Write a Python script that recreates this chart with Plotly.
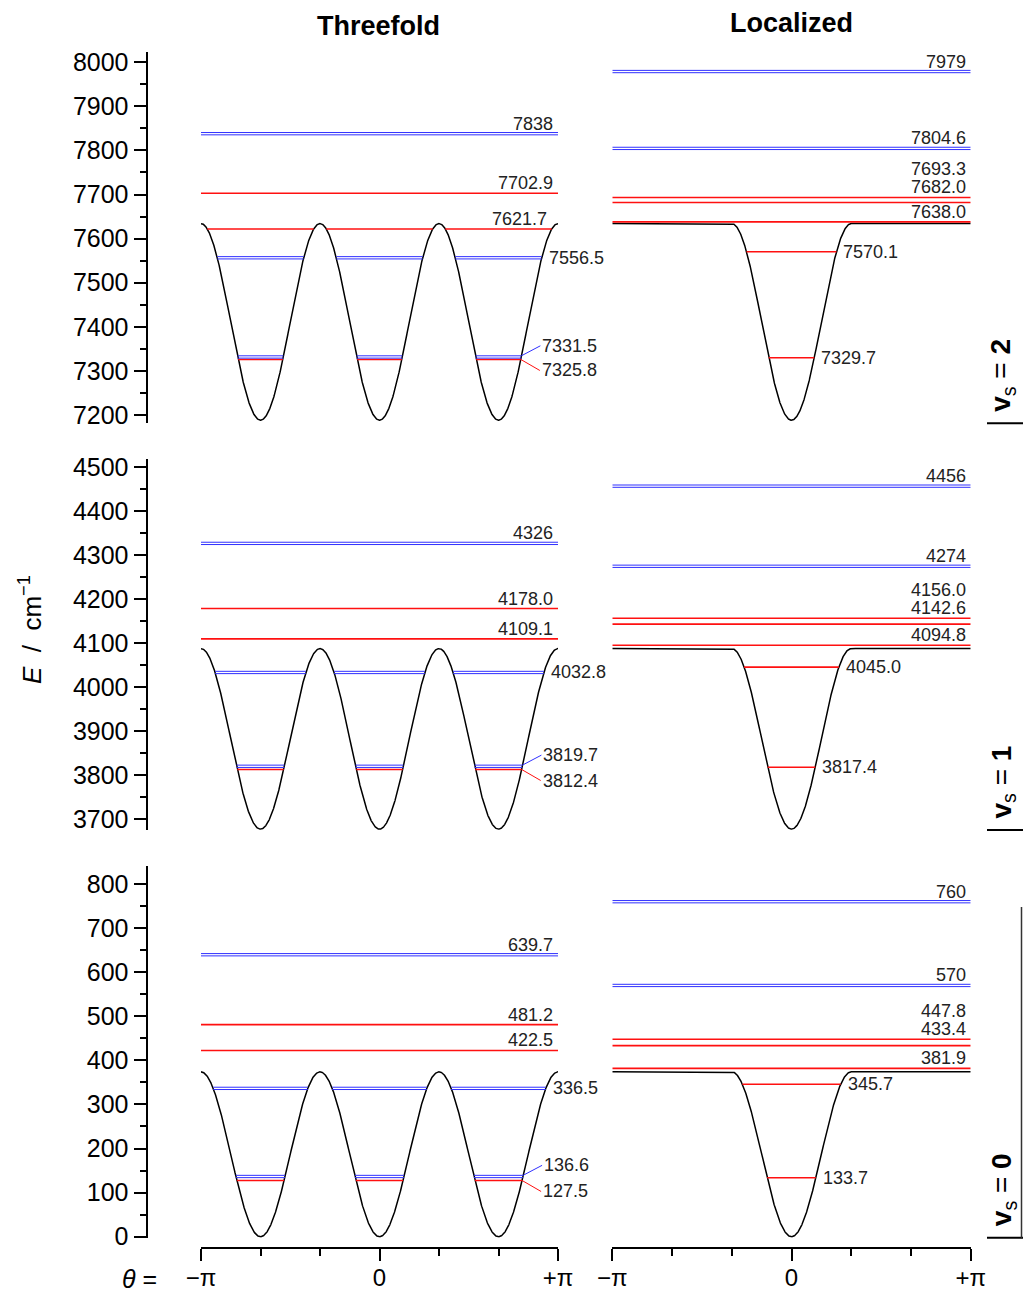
import numpy as np
import plotly.graph_objects as go

W, H = 1023, 1292

# ---------------- data ----------------
ROW_STATES = ["2", "1", "0"]                 # v_s of each row (top to bottom)
POT_MIN = [7188.0, 3677.0, 0.0]              # potential minimum per row
POT_TOP = [7634.0, 4087.0, 374.0]            # barrier top per row
Y_RANGES = [(7181.0, 8024.0), (3675.0, 4517.0), (-2.3, 841.0)]

# threefold column: A (red) and E (blue double) levels
THREEFOLD_A = [["7702.9", "7621.7", "7325.8"],
               ["4178.0", "4109.1", "3812.4"],
               ["481.2", "422.5", "127.5"]]
THREEFOLD_E = [["7838", "7556.5", "7331.5"],
               ["4326", "4032.8", "3819.7"],
               ["639.7", "336.5", "136.6"]]
# localized column
LOCAL_A = [["7693.3", "7682.0", "7638.0", "7570.1", "7329.7"],
           ["4156.0", "4142.6", "4094.8", "4045.0", "3817.4"],
           ["447.8", "433.4", "381.9", "345.7", "133.7"]]
LOCAL_E = [["7979", "7804.6"],
           ["4456", "4274"],
           ["760", "570"]]

COLUMN_TITLES = ["Threefold", "Localized"]
X_TICKVALS = [-np.pi, 0.0, np.pi]
X_TICKTEXT = ["\u2212\u03c0", "0", "+\u03c0"]

# ---------------- layout / style ----------------
COL_X = [(201.0, 558.0), (612.3, 970.7)]           # pixel x of plot areas
ROW_Y = [(51.7, 423.3), (459.3, 830.0), (866.0, 1237.7)]  # pixel y of plot areas
YAXIS_X = 146.5
XAXIS_Y = 1248.0
FONT = "Liberation Sans, Arial, sans-serif"
RED = "#ff1010"
BLUE = "#3030ff"
TXT = "#222222"
LBL = 18
STACK = 18.5


def px2x(p):
    return p / W


def px2y(p):
    return 1 - p / H


fig = go.Figure()
annotations = []
shapes = []
layout_axes = {}


def axis_names(r, c):
    idx = r * 2 + c + 1
    return ("x" if idx == 1 else f"x{idx}"), ("y" if idx == 1 else f"y{idx}"), idx


for r in range(3):
    for c in range(2):
        xa, ya, idx = axis_names(r, c)
        vmin, vtop = POT_MIN[r], POT_TOP[r]
        y0r, y1r = Y_RANGES[r]
        k = (ROW_Y[r][1] - ROW_Y[r][0]) / (y1r - y0r)   # px per unit

        def py(E):
            return ROW_Y[r][0] + (y1r - E) * k

        def e_of_py(p):
            return y1r - (p - ROW_Y[r][0]) / k

        theta = np.linspace(-np.pi, np.pi, 1441)
        well = vmin + (vtop - vmin) / 2 * (1 - np.cos(3 * theta))
        if c == 0:
            V = well
            centers = [-2 * np.pi / 3, 0.0, 2 * np.pi / 3]
        else:
            V = np.where(np.abs(theta) <= np.pi / 3, well, vtop)
            centers = [0.0]

        def segments(E):
            if E >= vtop:
                return [(-np.pi, np.pi)]
            w = np.arccos(1 - 2 * (E - vmin) / (vtop - vmin)) / 3
            return [(cc - w, cc + w) for cc in centers]

        fig.add_trace(go.Scatter(x=theta, y=V, mode="lines", xaxis=xa, yaxis=ya,
                                 line=dict(color="black", width=1.5),
                                 hoverinfo="skip", showlegend=False))

        A_list = THREEFOLD_A[r] if c == 0 else LOCAL_A[r]
        E_list = THREEFOLD_E[r] if c == 0 else LOCAL_E[r]
        off = 1.15 / k

        # red lines
        xs, ys = [], []
        for s in A_list:
            E = float(s)
            for a, b in segments(E):
                xs += [a, b, None]
                ys += [E, E, None]
        fig.add_trace(go.Scatter(x=xs, y=ys, mode="lines", xaxis=xa, yaxis=ya,
                                 line=dict(color=RED, width=1.6),
                                 hoverinfo="skip", showlegend=False))
        # blue double lines
        xs, ys = [], []
        for s in E_list:
            E = float(s)
            for a, b in segments(E):
                for d in (-off, off):
                    xs += [a, b, None]
                    ys += [E + d, E + d, None]
        fig.add_trace(go.Scatter(x=xs, y=ys, mode="lines", xaxis=xa, yaxis=ya,
                                 line=dict(color=BLUE, width=1),
                                 hoverinfo="skip", showlegend=False))

        # labels
        levels = [(float(s), s, "A") for s in A_list] + [(float(s), s, "E") for s in E_list]
        levels.sort()
        above, inwell = [], []
        for lv in levels:
            rend = segments(lv[0])[-1][1]
            if np.pi - rend < 0.15:
                above.append((lv, rend))
            else:
                inwell.append((lv, rend))

        prev = None
        above_E = [lv[0] for lv, _ in above]
        for (E, s, kind), rend in above:
            desired = py(E) - 10
            near = [py(E2) for E2 in above_E if E2 > E and py(E) - py(E2) < 12]
            if near:
                desired = min(near) - 10
            if prev is not None:
                desired = min(desired, prev - STACK)
            prev = desired
            annotations.append(dict(x=rend, y=e_of_py(desired), xref=xa, yref=ya,
                                    text=s, showarrow=False, xanchor="right",
                                    yanchor="middle", xshift=-3,
                                    font=dict(family=FONT, size=LBL, color=TXT)))

        for (E, s, kind), rend in inwell:
            partner = [E2 for (E2, _, _), _ in inwell if E2 != E and abs(E2 - E) < 15]
            if partner:
                up = E > partner[0]
                yy = E + off if (kind == "E" and up) else E
                annotations.append(dict(x=rend, y=yy, xref=xa, yref=ya, text=s,
                                        showarrow=True, arrowhead=0, arrowwidth=1,
                                        arrowcolor=BLUE if kind == "E" else RED,
                                        ax=19, ay=-10 if up else 11, standoff=0,
                                        xanchor="left", yanchor="middle",
                                        font=dict(family=FONT, size=LBL, color=TXT)))
            else:
                annotations.append(dict(x=rend, y=E, xref=xa, yref=ya, text=s,
                                        showarrow=False, xanchor="left",
                                        yanchor="middle", xshift=5,
                                        font=dict(family=FONT, size=LBL, color=TXT)))

        # axes
        xdict = dict(domain=[px2x(COL_X[c][0]), px2x(COL_X[c][1])],
                     range=[-np.pi, np.pi], showgrid=False, zeroline=False,
                     fixedrange=True)
        if r == 2:
            xdict.update(anchor="free", position=px2y(XAXIS_Y), showline=True,
                         linecolor="black", linewidth=2, ticks="outside",
                         ticklen=12, tickwidth=2, tickcolor="black",
                         tickvals=X_TICKVALS, ticktext=X_TICKTEXT,
                         ticklabelstandoff=-4,
                         tickfont=dict(family=FONT, size=24, color="black"),
                         minor=dict(tick0=-np.pi, dtick=np.pi / 3, ticks="outside",
                                    ticklen=7, tickwidth=2, tickcolor="black"))
        else:
            xdict.update(visible=False, anchor=ya)
        ydict = dict(domain=[px2y(ROW_Y[r][1]), px2y(ROW_Y[r][0])],
                     range=[y0r, y1r], showgrid=False, zeroline=False, fixedrange=True)
        if c == 0:
            ydict.update(anchor="free", position=px2x(YAXIS_X), showline=True,
                         linecolor="black", linewidth=2, ticks="outside",
                         ticklen=12, tickwidth=2, tickcolor="black",
                         tick0=0, dtick=100,
                         tickfont=dict(family=FONT, size=25, color="black"),
                         minor=dict(dtick=50, ticks="outside", ticklen=6,
                                    tickwidth=2, tickcolor="black"))
        else:
            ydict.update(visible=False, anchor=xa)
        layout_axes["xaxis" if idx == 1 else f"xaxis{idx}"] = xdict
        layout_axes["yaxis" if idx == 1 else f"yaxis{idx}"] = ydict

    # v_s labels and bracket feet on the right
    bot = ROW_Y[r][1]
    annotations.append(dict(x=px2x(1003), y=px2y(bot - 9), xref="paper", yref="paper",
                            text=f"<b>v</b><sub>s</sub> = <b>{ROW_STATES[r]}</b>",
                            textangle=-90, showarrow=False, xanchor="center",
                            yanchor="bottom",
                            font=dict(family=FONT, size=28, color="black")))
    shapes.append(dict(type="line", xref="paper", yref="paper",
                       x0=px2x(987), x1=px2x(1023), y0=px2y(bot), y1=px2y(bot),
                       line=dict(color="black", width=2)))

shapes.append(dict(type="line", xref="paper", yref="paper",
                   x0=px2x(1021.5), x1=px2x(1021.5), y0=px2y(907), y1=px2y(ROW_Y[2][1]),
                   line=dict(color="#333333", width=1.5)))

# column titles
annotations.append(dict(x=px2x(378), y=px2y(26), xref="paper", yref="paper",
                        text=f"<b>{COLUMN_TITLES[0]}</b>", showarrow=False,
                        xanchor="center", yanchor="middle",
                        font=dict(family=FONT, size=27, color="black")))
annotations.append(dict(x=px2x(791.7), y=px2y(23.5), xref="paper", yref="paper",
                        text=f"<b>{COLUMN_TITLES[1]}</b>", showarrow=False,
                        xanchor="center", yanchor="middle",
                        font=dict(family=FONT, size=27, color="black")))
# axis titles
annotations.append(dict(x=px2x(30), y=px2y(630), xref="paper", yref="paper",
                        text="<i>E</i>\u00a0 /\u00a0 cm<sup>\u22121</sup>", textangle=-90,
                        showarrow=False, xanchor="center", yanchor="middle",
                        font=dict(family=FONT, size=26, color="black")))
annotations.append(dict(x=px2x(139), y=px2y(1279), xref="paper", yref="paper",
                        text="<i>\u03b8</i> =", showarrow=False,
                        xanchor="center", yanchor="middle",
                        font=dict(family=FONT, size=25, color="black")))

fig.update_layout(width=W, height=H,
                  margin=dict(l=0, r=0, t=0, b=0, pad=0, autoexpand=False),
                  paper_bgcolor="white", plot_bgcolor="white",
                  showlegend=False, annotations=annotations, shapes=shapes,
                  **layout_axes)

fig.write_html("out.html")
